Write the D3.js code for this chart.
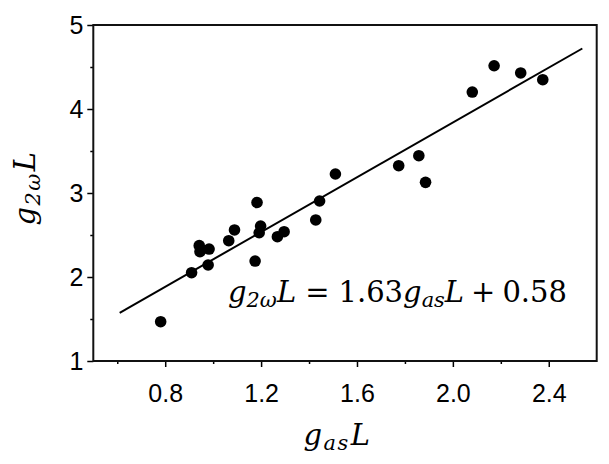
<!DOCTYPE html>
<html><head><meta charset="utf-8">
<script src="https://cdn.jsdelivr.net/npm/d3@7"></script>
<style>body{margin:0;background:#fff}svg{display:block}</style>
</head><body>
<script>
const gasL = [0.781,0.910,0.942,0.945,0.983,0.979,1.065,1.089,1.175,1.183,1.198,1.192,1.268,1.296,1.428,1.444,1.510,1.774,1.858,1.886,2.081,2.172,2.283,2.375];
const g2wL = [1.468,2.051,2.373,2.301,2.333,2.143,2.432,2.560,2.190,2.887,2.607,2.527,2.480,2.539,2.679,2.905,3.226,3.325,3.444,3.127,4.202,4.515,4.429,4.349];
const fitSlope = 1.63, fitIntercept = 0.58;
const fitRange = [0.61, 2.54];
const xMajor = [0.8,1.2,1.6,2.0,2.4];
const xMinor = [0.6,1.0,1.4,1.8,2.2];
const yMajor = [1,2,3,4,5];
const yMinor = [1.5,2.5,3.5,4.5];

const W=609,H=464;
const svg=d3.select("body").append("svg").attr("width",W).attr("height",H);
const L=93.3,R=596.7,T=25,B=361;
const x=d3.scaleLinear().domain([0.5,2.6]).range([L,R]);
const y=d3.scaleLinear().domain([1,5]).range([B,T]);
const sans="'Liberation Sans', Arial, sans-serif";
const serif="'DejaVu Serif',serif";

svg.append("g").attr("transform",`translate(0,${B})`)
  .call(d3.axisBottom(x).tickValues(xMinor).tickSize(3).tickFormat("").tickSizeOuter(0))
  .call(g=>g.select(".domain").remove())
  .call(g=>g.selectAll("line").attr("stroke-width",1.5));
svg.append("g").attr("transform",`translate(${L},0)`)
  .call(d3.axisLeft(y).tickValues(yMinor).tickSize(3).tickFormat("").tickSizeOuter(0))
  .call(g=>g.select(".domain").remove())
  .call(g=>g.selectAll("line").attr("stroke-width",1.5));
const xa=svg.append("g").attr("transform",`translate(0,${B})`)
  .call(d3.axisBottom(x).tickValues(xMajor).tickSize(6).tickPadding(17).tickFormat(d3.format(".1f")).tickSizeOuter(0));
xa.select(".domain").remove();
xa.selectAll("line").attr("stroke-width",1.5);
xa.selectAll("text").attr("font-family",sans).attr("font-size",25).attr("fill","#000");
const ya=svg.append("g").attr("transform",`translate(${L},0)`)
  .call(d3.axisLeft(y).tickValues(yMajor).tickSize(6).tickPadding(4).tickFormat(d3.format("d")).tickSizeOuter(0));
ya.select(".domain").remove();
ya.selectAll("line").attr("stroke-width",1.5);
ya.selectAll("text").attr("font-family",sans).attr("font-size",25).attr("fill","#000");

svg.append("rect").attr("x",L).attr("y",T).attr("width",R-L).attr("height",B-T)
  .attr("fill","none").attr("stroke","#111").attr("stroke-width",2);

const line=d3.line().x(d=>x(d)).y(d=>y(fitSlope*d+fitIntercept));
svg.append("path").datum(fitRange).attr("d",line).attr("fill","none").attr("stroke","#000").attr("stroke-width",2);

svg.append("g").selectAll("circle").data(gasL.map((v,i)=>[v,g2wL[i]])).join("circle")
  .attr("cx",d=>x(d[0])).attr("cy",d=>y(d[1])).attr("r",5.8).attr("fill","#000");

function mathLabel(sel, parts, size){
  parts.forEach(p=>{
    const t=sel.append("tspan").text(p.t);
    if(p.it) t.attr("font-style","italic");
    if(p.sub){ t.attr("font-size",size*0.72).attr("dy",size*0.16); }
    if(p.after){ t.attr("dy",-size*0.16); }
    if(p.dx) t.attr("dx",p.dx);
  });
}
const xl=svg.append("text").attr("x",(301.7+373.3)/2).attr("y",445).attr("text-anchor","middle")
  .attr("font-family",serif).attr("font-size",29).attr("letter-spacing",1.5);
mathLabel(xl,[{t:"g",it:1},{t:"as",it:1,sub:1},{t:"L",it:1,after:1,dx:1}],29);

const yl=svg.append("text").attr("transform",`translate(35,188) rotate(-90)`).attr("text-anchor","middle")
  .attr("font-family",serif).attr("font-size",29).attr("letter-spacing",1.5);
mathLabel(yl,[{t:"g",it:1},{t:"2ω",it:1,sub:1},{t:"L",it:1,after:1,dx:1}],29);

const eq=svg.append("text").attr("x",228).attr("y",302).attr("font-family",serif).attr("font-size",29);
mathLabel(eq,[{t:"g",it:1},{t:"2ω",it:1,sub:1},{t:"L",it:1,after:1},{t:"=",dx:9},{t:"1.63",dx:9},{t:"g",it:1},{t:"as",it:1,sub:1},{t:"L",it:1,after:1},{t:"+",dx:7},{t:"0.58",dx:7}],29);
</script>
</body></html>
